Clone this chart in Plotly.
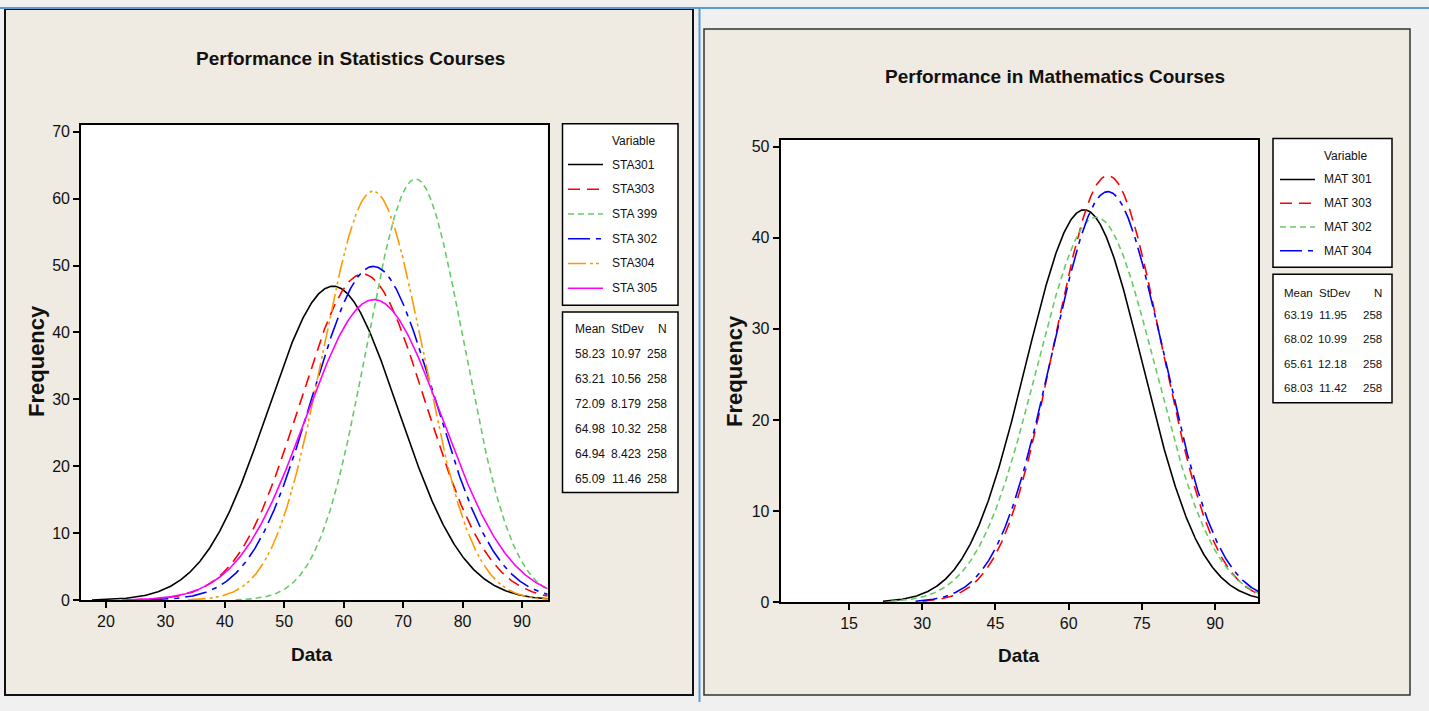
import numpy as np
import plotly.graph_objects as go

W, H = 1429, 711
YS = 703.0  # vertical calibration: reference pixel rows are mapped over this many figure rows
FONT = "Liberation Sans, Arial, DejaVu Sans, sans-serif"

# ---------------- data ----------------
sta_names = ["STA301", "STA303", "STA 399", "STA 302", "STA304", "STA 305"]
sta_mean = [58.23, 63.21, 72.09, 64.98, 64.94, 65.09]
sta_sd = [10.97, 10.56, 8.179, 10.32, 8.423, 11.46]
sta_n = [258, 258, 258, 258, 258, 258]
sta_sd_txt = ["10.97", "10.56", "8.179", "10.32", "8.423", "11.46"]

mat_names = ["MAT 301", "MAT 303", "MAT 302", "MAT 304"]
mat_mean = [63.19, 68.02, 65.61, 68.03]
mat_sd = [11.95, 10.99, 12.18, 11.42]
mat_n = [258, 258, 258, 258]
mat_sd_txt = ["11.95", "10.99", "12.18", "11.42"]

BIN_WIDTH = 5  # frequency scale of the fitted normal curves

sta_x_ticks = [20, 30, 40, 50, 60, 70, 80, 90]
sta_y_ticks = [0, 10, 20, 30, 40, 50, 60, 70]
mat_x_ticks = [15, 30, 45, 60, 75, 90]
mat_y_ticks = [0, 10, 20, 30, 40, 50]

# ---------------- styles ----------------
sta_colors = ["#000000", "#FF0000", "#66CC66", "#0000FF", "#FF9900", "#FF00FF"]
sta_dash = ["solid", "12px,7px", "6px,4px", "22px,6px,5px,6px",
            "18px,4px,3px,3px,3px,4px", "solid"]
mat_colors = ["#000000", "#FF0000", "#66CC66", "#0000FF"]
mat_dash = ["solid", "12px,7px", "6px,4px", "22px,6px,5px,6px"]

BEIGE = "#EFEBE2"
PAGE = "#F0F0F0"
BLUE = "#5B9BD5"
TXT = "#111111"


def fx(x):
    return x / W


def fy(y):
    return 1 - y / YS


def normal_fit(mean, sd, n, k_left):
    x = np.linspace(mean - k_left * sd, mean + 4.0 * sd, 700)
    y = n * BIN_WIDTH * np.exp(-0.5 * ((x - mean) / sd) ** 2) / (sd * np.sqrt(2 * np.pi))
    return x, y


fig = go.Figure()

for name, m, s, n, c, d in zip(sta_names, sta_mean, sta_sd, sta_n, sta_colors, sta_dash):
    x, y = normal_fit(m, s, n, 3.7)
    fig.add_trace(go.Scatter(x=x, y=y, mode="lines", name=name,
                             line=dict(color=c, width=1.6, dash=d),
                             xaxis="x", yaxis="y", showlegend=False))

for name, m, s, n, c, d in zip(mat_names, mat_mean, mat_sd, mat_n, mat_colors, mat_dash):
    x, y = normal_fit(m, s, n, 3.45)
    fig.add_trace(go.Scatter(x=x, y=y, mode="lines", name=name,
                             line=dict(color=c, width=1.6, dash=d),
                             xaxis="x2", yaxis="y2", showlegend=False))

axis_common = dict(showline=True, mirror=True, linecolor="black", linewidth=1.6,
                   ticks="outside", ticklen=6, tickwidth=1.5, tickcolor="black",
                   showgrid=False, zeroline=False,
                   tickfont=dict(family=FONT, size=16, color=TXT))

fig.update_layout(
    width=W, height=H, autosize=False,
    margin=dict(l=0, r=0, t=0, b=0),
    paper_bgcolor=PAGE, plot_bgcolor="white",
    showlegend=False,
    xaxis=dict(domain=[fx(81), fx(547.5)], range=[15.8, 94.3], anchor="y",
               tickvals=sta_x_ticks, **axis_common),
    yaxis=dict(domain=[fy(601), fy(124)], range=[0, 71.04], anchor="x",
               tickvals=sta_y_ticks, **axis_common),
    xaxis2=dict(domain=[fx(780.5), fx(1258)], range=[0.96, 98.8], anchor="y2",
                tickvals=mat_x_ticks, **axis_common),
    yaxis2=dict(domain=[fy(603), fy(139)], range=[0, 50.77], anchor="x2",
                tickvals=mat_y_ticks, **axis_common),
)

shapes = []
annotations = []


def rect(x0, y0, x1, y1, fill, line_color, lw, layer="below"):
    shapes.append(dict(type="rect", xref="paper", yref="paper",
                       x0=fx(x0), x1=fx(x1), y0=fy(y1), y1=fy(y0),
                       fillcolor=fill, line=dict(color=line_color, width=lw), layer=layer))


def hline(x0, x1, y, color, width, dash="solid", layer="above"):
    shapes.append(dict(type="line", xref="paper", yref="paper",
                       x0=fx(x0), x1=fx(x1), y0=fy(y), y1=fy(y),
                       line=dict(color=color, width=width, dash=dash), layer=layer))


def text(x, y, s, size=12, xanchor="left", bold=False, angle=0):
    annotations.append(dict(xref="paper", yref="paper", x=fx(x), y=fy(y),
                            text=("<b>%s</b>" % s) if bold else s, showarrow=False,
                            xanchor=xanchor, yanchor="middle", textangle=angle,
                            font=dict(family=FONT, size=size, color=TXT)))


# panels
rect(5, 8, 693, 696, BEIGE, "#111", 2)
rect(704, 28, 1410, 696, BEIGE, "#333", 1.5)
# white plot areas
rect(81, 124, 547.5, 601, "white", "rgba(0,0,0,0)", 0)
rect(780.5, 139, 1258, 603, "white", "rgba(0,0,0,0)", 0)
# window separators
hline(0, W, 7, BLUE, 2)
shapes.append(dict(type="line", xref="paper", yref="paper", x0=fx(699.5), x1=fx(699.5),
                   y0=fy(7), y1=0, line=dict(color=BLUE, width=2), layer="above"))

# titles
text(350, 58, "Performance in Statistics Courses", size=19, xanchor="center", bold=True)
text(1054.5, 76, "Performance in Mathematics Courses", size=19, xanchor="center", bold=True)
text(37, 361, "Frequency", size=22, xanchor="center", bold=True, angle=-90)
text(735, 371, "Frequency", size=22, xanchor="center", bold=True, angle=-90)
text(312, 655, "Data", size=19, xanchor="center", bold=True)
text(1019, 656, "Data", size=19, xanchor="center", bold=True)

# ---- left legend ----
rect(562.5, 123, 678, 305, "white", "black", 1.5, layer="above")
text(610, 140, "Variable")
for i, (name, c, d) in enumerate(zip(sta_names, sta_colors, sta_dash)):
    yy = 164 + i * 24.8
    hline(568, 603, yy, c, 1.6, d)
    text(610, yy, name)
rect(562.5, 312, 678, 493, "white", "black", 1.5, layer="above")
text(573, 329, "Mean")
text(609, 329, "StDev")
text(669, 329, "N", xanchor="right")
for i, (m, s, n) in enumerate(zip(sta_mean, sta_sd_txt, sta_n)):
    yy = 354 + i * 25
    text(573, yy, "%.2f" % m)
    text(643, yy, s, xanchor="right")
    text(669, yy, str(n), xanchor="right")

# ---- right legend ----
rect(1273, 138, 1392, 267, "white", "black", 1.5, layer="above")
text(1322, 155, "Variable")
for i, (name, c, d) in enumerate(zip(mat_names, mat_colors, mat_dash)):
    yy = 179 + i * 23.8
    hline(1280, 1315, yy, c, 1.6, d)
    text(1322, yy, name)
rect(1273, 274, 1392, 403, "white", "black", 1.5, layer="above")
text(1282, 293, "Mean", size=11.5)
text(1317, 293, "StDev", size=11.5)
text(1384, 293, "N", size=11.5, xanchor="right")
for i, (m, s, n) in enumerate(zip(mat_mean, mat_sd_txt, mat_n)):
    yy = 315 + i * 24.3
    text(1282, yy, "%.2f" % m, size=11.5)
    text(1349, yy, s, size=11.5, xanchor="right")
    text(1384, yy, str(n), size=11.5, xanchor="right")

fig.update_layout(shapes=shapes, annotations=annotations)
fig.write_html(
    "out.html",
    config={"displayModeBar": False},
    post_script="document.body.style.margin='0';document.body.style.background='%s';"
                "document.documentElement.style.background='%s';"
                "document.body.style.overflow='hidden';" % (PAGE, PAGE),
)
